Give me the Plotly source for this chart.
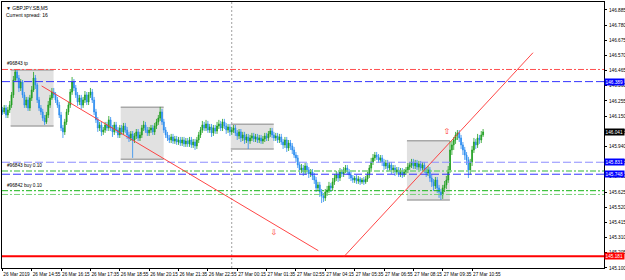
import pandas as pd
import plotly.graph_objects as go

# ---------------- data ----------------
symbol_text = "▼ GBPJPY.SB,M5"
spread_text = "Current spread: 16"
first_bar = "2019-03-26 13:35"
first_open = 146.193

closes = [146.179,146.207,146.158,146.193,146.227,146.297,146.400,146.456,146.414,146.345,
146.387,146.297,146.227,146.262,146.207,146.276,146.331,146.414,146.366,146.262,
146.207,146.179,146.137,146.110,146.158,146.227,146.276,146.317,146.297,146.262,
146.227,146.158,146.068,146.041,146.110,146.179,146.227,146.317,146.387,146.345,
146.297,146.248,146.276,146.227,146.262,146.297,146.248,146.297,146.317,146.262,
146.179,146.124,146.068,146.089,146.041,146.054,146.089,146.068,146.124,146.068,
146.041,146.089,146.054,146.020,146.068,146.041,146.082,146.054,146.020,145.999,
146.027,145.985,146.013,146.041,145.999,146.020,146.068,146.089,146.054,146.034,
146.054,146.068,146.041,146.082,146.110,146.137,146.179,146.110,146.054,146.020,
145.999,145.985,146.006,145.978,145.992,145.971,145.985,145.964,145.985,145.958,
145.978,145.958,145.985,145.951,145.971,145.944,145.985,146.020,146.054,146.089,
146.068,146.096,146.054,146.075,146.034,146.068,146.047,146.082,146.096,146.068,
146.110,146.082,146.054,146.075,146.041,146.054,146.068,146.034,146.013,146.041,
145.999,146.020,145.985,146.006,145.978,145.999,146.013,145.992,146.006,145.985,
145.999,145.978,145.992,146.013,145.999,146.027,146.047,146.020,145.999,146.013,
145.985,146.006,145.971,145.951,145.985,145.930,145.964,145.944,145.916,145.881,
145.861,145.812,145.778,145.791,145.764,145.805,145.778,145.750,145.764,145.736,
145.708,145.653,145.674,145.625,145.598,145.584,145.625,145.639,145.667,145.653,
145.695,145.722,145.743,145.722,145.764,145.750,145.778,145.791,145.764,145.743,
145.722,145.708,145.722,145.701,145.715,145.695,145.708,145.695,145.715,145.743,
145.791,145.833,145.861,145.881,145.868,145.847,145.861,145.833,145.805,145.826,
145.791,145.812,145.778,145.791,145.764,145.778,145.750,145.771,145.743,145.764,
145.778,145.798,145.812,145.833,145.805,145.826,145.798,145.819,145.791,145.812,
145.778,145.757,145.778,145.722,145.695,145.667,145.708,145.653,145.625,145.605,
145.653,145.674,145.708,145.778,145.916,145.951,145.985,146.020,146.034,145.999,
145.951,145.916,145.881,145.847,145.778,145.833,145.916,145.971,145.951,145.999,
145.985,146.020,146.041]

highs = [146.214,146.227,146.227,146.214,146.255,146.317,146.428,146.470,146.470,146.435,
146.407,146.400,146.317,146.283,146.283,146.297,146.359,146.456,146.435,146.380,
146.283,146.227,146.200,146.158,146.179,146.255,146.297,146.345,146.345,146.317,
146.283,146.248,146.179,146.089,146.131,146.200,146.248,146.338,146.421,146.407,
146.366,146.317,146.297,146.297,146.283,146.324,146.317,146.317,146.345,146.338,
146.283,146.200,146.144,146.110,146.110,146.075,146.110,146.110,146.151,146.144,
146.089,146.110,146.110,146.075,146.089,146.089,146.103,146.103,146.075,146.041,
146.047,146.047,146.034,146.061,146.061,146.041,146.089,146.117,146.110,146.075,
146.075,146.089,146.089,146.103,146.131,146.158,146.214,146.200,146.131,146.075,
146.041,146.020,146.027,146.027,146.013,146.013,146.006,146.006,146.006,146.006,
145.999,145.999,146.006,146.006,145.992,145.992,146.006,146.041,146.075,146.117,
146.110,146.124,146.117,146.096,146.096,146.089,146.089,146.110,146.124,146.117,
146.131,146.131,146.103,146.096,146.096,146.075,146.089,146.089,146.054,146.061,
146.061,146.041,146.041,146.027,146.027,146.020,146.034,146.034,146.027,146.027,
146.020,146.020,146.013,146.034,146.034,146.047,146.068,146.068,146.041,146.034,
146.034,146.027,146.027,145.992,146.006,146.006,145.985,145.985,145.964,145.937,
145.902,145.881,145.833,145.819,145.812,145.826,145.826,145.798,145.784,145.784,
145.757,145.729,145.695,145.695,145.646,145.618,145.646,145.667,145.695,145.688,
145.722,145.750,145.771,145.764,145.791,145.784,145.798,145.812,145.812,145.784,
145.764,145.743,145.736,145.743,145.736,145.729,145.722,145.729,145.736,145.764,
145.812,145.861,145.888,145.902,145.902,145.888,145.881,145.881,145.854,145.847,
145.847,145.833,145.833,145.812,145.812,145.798,145.798,145.791,145.791,145.784,
145.798,145.826,145.833,145.854,145.854,145.847,145.847,145.840,145.840,145.833,
145.833,145.798,145.805,145.798,145.743,145.715,145.729,145.729,145.674,145.646,
145.674,145.701,145.736,145.805,145.978,145.978,146.006,146.041,146.054,146.054,
146.020,145.971,145.937,145.902,145.868,145.854,145.944,145.999,145.992,146.027,
146.020,146.047,146.061]

lows = [146.158,146.165,146.137,146.137,146.172,146.207,146.276,146.387,146.387,146.317,
146.324,146.276,146.207,146.207,146.186,146.186,146.255,146.317,146.338,146.241,
146.186,146.158,146.117,146.089,146.096,146.137,146.207,146.262,146.276,146.241,
146.207,146.137,146.047,145.999,146.020,146.089,146.158,146.207,146.297,146.324,
146.276,146.221,146.227,146.200,146.207,146.241,146.227,146.227,146.276,146.241,
146.158,146.103,146.041,146.047,146.013,146.020,146.034,146.047,146.047,146.047,
146.006,146.020,146.034,145.999,145.999,146.020,146.020,146.034,145.992,145.971,
145.978,145.861,145.964,145.992,145.978,145.978,145.999,146.047,146.034,146.013,
146.013,146.034,146.020,146.020,146.061,146.089,146.117,146.089,146.034,145.999,
145.978,145.964,145.964,145.958,145.958,145.951,145.951,145.944,145.944,145.937,
145.937,145.937,145.937,145.930,145.930,145.916,145.923,145.964,145.999,146.034,
146.047,146.047,146.034,146.034,146.006,146.013,146.027,146.027,146.061,146.047,
146.047,146.061,146.027,146.034,146.013,146.020,146.034,146.013,145.985,145.992,
145.971,145.978,145.958,145.964,145.923,145.958,145.978,145.971,145.971,145.964,
145.964,145.958,145.958,145.971,145.978,145.978,146.006,145.999,145.978,145.978,
145.964,145.964,145.951,145.923,145.930,145.902,145.909,145.916,145.888,145.861,
145.833,145.791,145.750,145.757,145.736,145.743,145.750,145.722,145.729,145.708,
145.681,145.625,145.632,145.591,145.549,145.556,145.563,145.598,145.618,145.625,
145.632,145.674,145.701,145.695,145.701,145.729,145.729,145.757,145.743,145.715,
145.701,145.688,145.688,145.681,145.681,145.674,145.681,145.674,145.681,145.695,
145.722,145.771,145.812,145.840,145.847,145.826,145.826,145.805,145.778,145.784,
145.764,145.771,145.750,145.757,145.736,145.743,145.729,145.729,145.722,145.729,
145.743,145.757,145.778,145.791,145.784,145.784,145.778,145.778,145.771,145.771,
145.757,145.729,145.736,145.695,145.660,145.632,145.646,145.618,145.584,145.570,
145.577,145.625,145.646,145.688,145.757,145.881,145.916,145.958,145.985,145.971,
145.923,145.881,145.847,145.812,145.722,145.743,145.805,145.895,145.923,145.930,
145.958,145.964,146.006]

x_tick_text = ["26 Mar 2019", "26 Mar 14:55", "26 Mar 16:15", "26 Mar 17:35", "26 Mar 18:55",
               "26 Mar 20:15", "26 Mar 21:35", "26 Mar 22:55", "27 Mar 00:15", "27 Mar 01:35",
               "27 Mar 02:55", "27 Mar 04:15", "27 Mar 05:35", "27 Mar 06:55", "27 Mar 08:15",
               "27 Mar 09:35", "27 Mar 10:55"]
y_tick_values = [146.885, 146.780, 146.675, 146.570, 146.465, 146.360, 146.255, 146.150, 146.045,
                 145.940, 145.835, 145.730, 145.625, 145.520, 145.415, 145.310, 145.205, 145.100]

# session boxes
box_starts = ["2019-03-26 14:00", "2019-03-26 19:00", "2019-03-27 00:00", "2019-03-27 08:00"]
box_highs = [146.470, 146.212, 146.094, 145.980]
box_lows = [146.082, 145.852, 145.923, 145.570]

# horizontal levels
tp_level = 146.473
sl_level = 145.181
order_levels = [146.389, 145.831, 145.748]
open_levels_light = [145.771, 145.608]
open_level_dark = 145.634
current_price = 146.041

# trend lines (time, price)
trend1 = [("2019-03-26 15:22", 146.359), ("2019-03-27 03:56", 145.219)]
trend2 = [("2019-03-27 05:06", 145.178), ("2019-03-27 13:41", 146.589)]
# arrows
arrow_down = ("2019-03-27 01:55", 145.342)
arrow_up = ("2019-03-27 09:46", 146.043)
day_separator = "2019-03-27 00:00"

order_labels = ["#96843 tp", "#96843 buy 0.10", "#96842 buy 0.10"]

# ---------------- figure ----------------
times = pd.date_range(first_bar, periods=len(closes), freq="5min")
opens = [first_open] + closes[:-1]

FONT = "Liberation Sans, Arial, sans-serif"
FS = 4.7

fig = go.Figure()
fig.add_trace(go.Candlestick(
    x=times, open=opens, high=highs, low=lows, close=closes,
    increasing=dict(line=dict(color="#1e9e1e", width=0.8), fillcolor="#1e9e1e"),
    decreasing=dict(line=dict(color="#2a8cf0", width=0.8), fillcolor="#2a8cf0"),
    whiskerwidth=0, hoverinfo="skip", showlegend=False))

# arrows
fig.add_trace(go.Scatter(
    x=[arrow_down[0], arrow_up[0]], y=[arrow_down[1], arrow_up[1]],
    mode="text", text=["⇩", "⇧"], textfont=dict(color="#ff2020", size=8, family="DejaVu Sans"),
    hoverinfo="skip", showlegend=False))

shapes = []
five = pd.Timedelta(minutes=5)
for s, hi, lo in zip(box_starts, box_highs, box_lows):
    t0 = pd.Timestamp(s) - five * 0.5
    t1 = pd.Timestamp(s) + pd.Timedelta(hours=2) - five * 1.1
    shapes.append(dict(type="rect", xref="x", yref="y", x0=t0, x1=t1, y0=lo, y1=hi,
                       fillcolor="#e1e1e1", line=dict(width=0), layer="below"))
    for yy in (hi, lo):
        shapes.append(dict(type="line", xref="x", yref="y", x0=t0, x1=t1, y0=yy, y1=yy,
                           line=dict(color="#a8a8a8", width=1.5), layer="below"))

def hline(y, color, dash, width=1):
    shapes.append(dict(type="line", xref="paper", yref="y", x0=0, x1=1, y0=y, y1=y,
                       line=dict(color=color, width=width, dash=dash), layer="above"))

hline(tp_level, "#ff5050", "6px,2px,2px,2px")
hline(order_levels[0], "#3434ff", "8px,3px")
hline(order_levels[1], "#8c8cff", "8px,3px")
hline(open_levels_light[0], "#7ad27a", "6px,2px,2px,2px", 1.5)
hline(order_levels[2], "#3434ff", "8px,3px")
hline(open_level_dark, "#14b414", "6px,2px,2px,2px")
hline(open_levels_light[1], "#7ad27a", "6px,2px,2px,2px")
hline(sl_level, "#ff0000", "solid", 2)

for tl in (trend1, trend2):
    shapes.append(dict(type="line", xref="x", yref="y", x0=tl[0][0], y0=tl[0][1],
                       x1=tl[1][0], y1=tl[1][1], line=dict(color="rgba(255,50,50,0.9)", width=1),
                       layer="above"))

shapes.append(dict(type="line", xref="x", yref="paper", x0=day_separator, x1=day_separator,
                   y0=0, y1=1, line=dict(color="#a0a0a0", width=1, dash="2px,2px"), layer="below"))

annotations = []
def price_box(y, bg, txt=None):
    annotations.append(dict(xref="paper", yref="y", x=1, y=y, xanchor="left", yanchor="middle",
                            xshift=0, text=txt or f"{y:.3f}", showarrow=False, bgcolor=bg,
                            font=dict(color="white", size=FS, family=FONT), borderpad=0.6))

price_box(order_levels[0], "#0000ff")
price_box(order_levels[1], "#0000ff")
price_box(order_levels[2], "#0000ff")
price_box(current_price, "#000000")
price_box(sl_level, "#ff0000")

for lvl, txt in zip([tp_level, open_levels_light[0], open_level_dark], order_labels):
    annotations.append(dict(xref="paper", yref="y", x=0, y=lvl, xanchor="left", yanchor="bottom",
                            xshift=3, yshift=1, text=txt, showarrow=False,
                            font=dict(color="black", size=FS, family=FONT)))

annotations.append(dict(xref="paper", yref="paper", x=0, y=1, xanchor="left", yanchor="top",
                        xshift=2, yshift=-1, text=symbol_text, showarrow=False,
                        font=dict(color="black", size=5, family=FONT)))
annotations.append(dict(xref="paper", yref="paper", x=0, y=1, xanchor="left", yanchor="top",
                        xshift=2, yshift=-8, text=spread_text, showarrow=False,
                        font=dict(color="black", size=5, family=FONT)))

t_start = times[0]
x_range = [t_start - five * 0.2, t_start + five * 327.9]

fig.update_layout(
    width=625, height=280, margin=dict(l=2, r=21, t=2, b=12),
    paper_bgcolor="white", plot_bgcolor="white",
    shapes=shapes, annotations=annotations, showlegend=False,
    font=dict(family=FONT, size=FS, color="black"),
)
fig.update_xaxes(
    type="date", range=x_range, rangeslider=dict(visible=False), automargin=False,
    tickvals=list(times[::16]), ticktext=x_tick_text, tickangle=0,
    ticks="outside", ticklen=2, tickcolor="black", ticklabelposition="outside right",
    ticklabelstandoff=1,
    showgrid=False, zeroline=False, showline=True, linecolor="black", linewidth=1, mirror=True,
    tickfont=dict(size=FS, family=FONT, color="black"),
)
fig.update_yaxes(
    side="right", range=[145.099, 146.940], automargin=False,
    tickvals=y_tick_values, ticktext=[f"{v:.3f}" for v in y_tick_values],
    ticks="outside", ticklen=2, tickcolor="black", ticklabelstandoff=1,
    showgrid=False, zeroline=False, showline=True, linecolor="black", linewidth=1, mirror=True,
    tickfont=dict(size=FS, family=FONT, color="black"),
)

fig.write_html("out.html")
